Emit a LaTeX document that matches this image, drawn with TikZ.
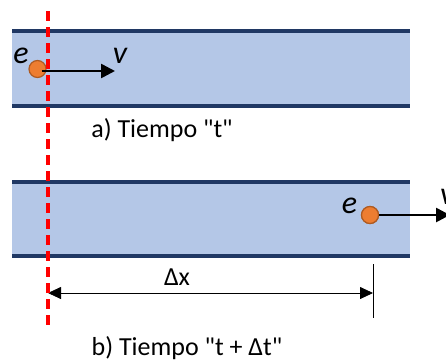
\documentclass[tikz,border=0pt]{standalone}
\usepackage{fontspec}
\setmainfont{Carlito}[Ligatures=TeXOff]
\usetikzlibrary{arrows.meta}
\definecolor{tubefill}{HTML}{B4C7E7}
\definecolor{tubeline}{HTML}{203864}
\definecolor{eorange}{HTML}{ED7D31}
\definecolor{eborder}{HTML}{AE5A21}
\tikzset{
  tubeedge/.style={draw=tubeline, line width=4pt},
  electron/.style={circle, fill=eorange, draw=eborder, line width=1.2pt, minimum size=17pt, inner sep=0pt},
  velarrow/.style={line width=2.6pt, -{Triangle[length=14pt,width=14pt]}},
  lbl/.style={font=\fontsize{26}{30}\selectfont, inner sep=0pt, anchor=base},
  symb/.style={font=\fontsize{32}{34}\selectfont\itshape, inner sep=0pt, anchor=base},
  dimarrow/.style={line width=0.8pt, {Triangle[length=13pt,width=12pt]}-{Triangle[length=13pt,width=12pt]}},
  refline/.style={draw=red, line width=3.5pt, dash pattern=on 10pt off 6pt},
}
\begin{document}
\begin{tikzpicture}[x=1pt,y=-1pt]
\useasboundingbox (0,0) rectangle (446,362);
\clip (0,0) rectangle (446,362);
% tubes
\fill[tubefill] (12,31) rectangle (410,106);
\draw[tubeedge] (12,31) -- (410,31);
\draw[tubeedge] (12,106) -- (410,106);
\fill[tubefill] (12,182) rectangle (410,256);
\draw[tubeedge] (12,182) -- (410,182);
\draw[tubeedge] (12,256) -- (410,256);
% top electron
\node[electron] (e1) at (37.5,69) {};
\coordinate (v1end) at (115,71);
\draw[velarrow] ([xshift=4pt]e1.center |- v1end) -- (v1end);
\node[symb] (le1) at (21,63) {e};
\node[symb] (lv1) at (120,63) {v};
% bottom electron
\node[electron] (e2) at (370,215) {};
\coordinate (v2end) at (450,215);
\draw[velarrow] (e2.center) -- (v2end);
\node[electron] at (e2) {};
\node[symb] (le2) at (349.5,213) {e};
\node[symb, anchor=base west] (lv2) at (440,204) {v};
% captions
\node[lbl] (ca) at (162,137) {a) Tiempo "t"};
\node[lbl] (cb) at (187,355) {b) Tiempo "t + Δt"};
% dimension
\coordinate (dl) at (48,293);
\coordinate (dr) at (373,293);
\coordinate (tk1) at (373,264);
\coordinate (tk2) at (373,318);
\draw[line width=0.8pt] (tk1) -- (tk2);
\draw[dimarrow] (dl) -- (dr);
\node[lbl] (dx) at (177,285) {Δx};
% reference line
\coordinate (r1) at (48,11);
\coordinate (r2) at (48,331);
\draw[refline] (r1) -- (r2);
\end{tikzpicture}
\end{document}
